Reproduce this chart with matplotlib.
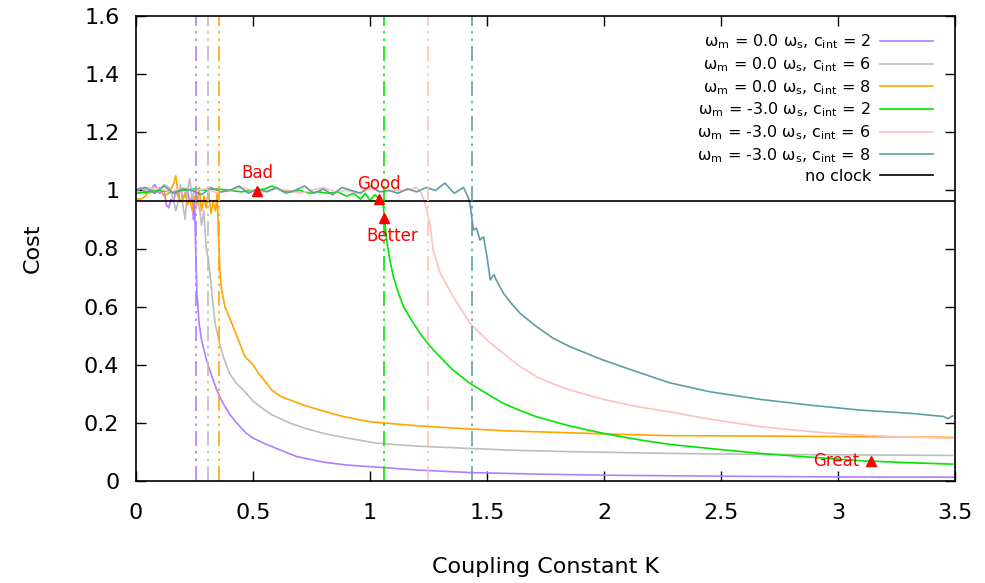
import matplotlib
matplotlib.use("Agg")
import matplotlib.pyplot as plt

plt.rcParams['font.family'] = ['DejaVu Sans']
plt.rcParams['mathtext.default'] = 'regular'

# ---------------- data ----------------
k_p = [0.00,0.02,0.04,0.06,0.08,0.10,0.12,0.13,0.14,0.15,0.16,0.17,0.18,0.19,0.20,0.21,0.22,0.23,0.24,0.245,0.25,0.255,0.26,0.27,0.28,0.30,0.32,0.345,0.37,0.40,0.43,0.47,0.50,0.543,0.60,0.687,0.80,0.90,1.04,1.20,1.427,1.7,2.0,2.28,2.6,3.0,3.5]
c_p = [1.00,1.01,0.99,1.00,1.02,0.99,1.00,0.95,0.94,0.97,0.96,1.00,0.98,1.01,0.97,0.99,1.00,0.96,0.98,0.90,0.97,0.80,0.65,0.54,0.485,0.42,0.37,0.313,0.27,0.23,0.20,0.165,0.148,0.131,0.112,0.084,0.065,0.055,0.047,0.038,0.029,0.024,0.020,0.018,0.016,0.014,0.013]

k_g = [0,0.02,0.04,0.06,0.08,0.10,0.12,0.14,0.16,0.17,0.18,0.19,0.20,0.21,0.22,0.23,0.24,0.25,0.26,0.27,0.28,0.29,0.30,0.31,0.316,0.325,0.338,0.355,0.373,0.40,0.43,0.459,0.50,0.53,0.58,0.658,0.72,0.80,0.90,1.03,1.2,1.427,1.6,1.855,2.0,2.28,2.6,3.0,3.49]
c_g = [1.00,1.01,1.00,0.99,1.01,1.00,1.02,1.01,0.97,0.93,0.96,1.02,0.95,0.90,1.00,1.04,0.97,1.00,0.98,0.95,0.88,0.93,0.80,0.76,0.715,0.64,0.543,0.48,0.428,0.37,0.335,0.313,0.275,0.256,0.228,0.199,0.182,0.164,0.148,0.130,0.120,0.112,0.106,0.101,0.099,0.095,0.092,0.090,0.088]

k_o = [0,0.02,0.04,0.06,0.08,0.10,0.12,0.14,0.16,0.17,0.18,0.19,0.20,0.21,0.22,0.23,0.24,0.25,0.26,0.27,0.28,0.29,0.30,0.31,0.32,0.33,0.34,0.347,0.352,0.359,0.366,0.38,0.409,0.44,0.466,0.50,0.523,0.55,0.58,0.62,0.658,0.72,0.786,0.87,0.957,1.0,1.2,1.427,1.6,1.855,2.0,2.28,2.6,3.0,3.2,3.49]
c_o = [0.97,0.97,0.98,1.00,0.99,1.01,0.98,0.99,1.02,1.05,0.99,0.96,0.97,0.99,0.95,0.97,0.93,0.98,0.95,1.01,0.93,0.98,0.94,1.00,0.92,0.96,0.93,0.99,0.85,0.715,0.657,0.60,0.543,0.48,0.428,0.40,0.371,0.345,0.313,0.29,0.279,0.26,0.244,0.225,0.21,0.204,0.19,0.179,0.172,0.166,0.162,0.156,0.155,0.153,0.152,0.150]

k_gr = [0,0.05,0.10,0.15,0.20,0.25,0.30,0.35,0.40,0.45,0.50,0.55,0.58,0.62,0.66,0.70,0.74,0.78,0.82,0.86,0.90,0.93,0.96,0.98,1.00,1.02,1.04,1.05,1.057,1.071,1.085,1.10,1.12,1.143,1.18,1.214,1.25,1.285,1.35,1.427,1.50,1.57,1.64,1.712,1.855,1.997,2.14,2.28,2.45,2.667,2.88,3.094,3.3,3.49]
c_gr = [0.99,0.995,1.00,0.995,1.00,1.005,1.00,1.005,1.00,0.995,1.00,1.005,1.015,1.00,0.995,1.00,0.99,0.995,0.99,0.995,0.98,0.99,0.97,0.99,0.965,0.985,0.97,0.96,0.944,0.829,0.76,0.703,0.65,0.60,0.55,0.508,0.47,0.439,0.385,0.336,0.30,0.267,0.243,0.221,0.189,0.164,0.143,0.126,0.112,0.095,0.082,0.070,0.063,0.058]

k_pk = [0,0.05,0.10,0.15,0.20,0.25,0.30,0.35,0.40,0.45,0.50,0.55,0.60,0.65,0.70,0.75,0.80,0.85,0.90,0.95,1.00,1.05,1.10,1.15,1.20,1.22,1.235,1.256,1.27,1.30,1.356,1.427,1.50,1.57,1.64,1.712,1.78,1.855,1.997,2.14,2.28,2.45,2.667,2.88,3.094,3.3,3.49]
c_pk = [1.00,1.01,1.005,0.995,1.01,1.00,1.005,0.99,1.00,1.01,1.00,0.995,1.005,1.00,0.99,1.00,1.01,0.995,1.00,0.99,1.005,0.995,1.00,1.00,1.01,0.99,0.956,0.887,0.795,0.715,0.634,0.543,0.485,0.439,0.395,0.359,0.335,0.313,0.281,0.256,0.238,0.213,0.187,0.17,0.158,0.151,0.147]

k_t = [0,0.04,0.08,0.12,0.16,0.20,0.24,0.28,0.32,0.36,0.40,0.44,0.48,0.52,0.56,0.60,0.64,0.68,0.72,0.76,0.80,0.84,0.88,0.92,0.96,1.00,1.04,1.08,1.12,1.16,1.20,1.24,1.28,1.32,1.36,1.40,1.42,1.427,1.442,1.455,1.47,1.485,1.50,1.514,1.53,1.541,1.57,1.60,1.641,1.712,1.783,1.855,1.997,2.14,2.28,2.453,2.667,2.88,3.094,3.308,3.45,3.47,3.49]
c_t = [1.00,1.01,0.99,1.015,0.99,1.005,1.00,0.985,1.01,0.995,1.00,1.015,0.99,1.005,0.995,1.01,0.99,1.00,1.015,0.99,1.005,0.985,1.01,1.00,0.99,1.015,0.995,1.00,0.99,1.005,0.995,1.01,1.00,1.025,0.99,1.01,0.975,0.955,0.864,0.87,0.829,0.84,0.772,0.692,0.71,0.69,0.646,0.615,0.577,0.531,0.491,0.462,0.416,0.376,0.338,0.307,0.281,0.261,0.244,0.233,0.222,0.215,0.224]

no_clock = 0.963

labels = [r"ω$_{m}$ = 0.0 ω$_{s}$, c$_{int}$ = 2",
          r"ω$_{m}$ = 0.0 ω$_{s}$, c$_{int}$ = 6",
          r"ω$_{m}$ = 0.0 ω$_{s}$, c$_{int}$ = 8",
          r"ω$_{m}$ = -3.0 ω$_{s}$, c$_{int}$ = 2",
          r"ω$_{m}$ = -3.0 ω$_{s}$, c$_{int}$ = 6",
          r"ω$_{m}$ = -3.0 ω$_{s}$, c$_{int}$ = 8",
          "no clock"]
colors = ['#b07fff', '#bdbdbd', '#ffa500', '#00e600', '#ffc0c0', '#5f9ea0']
thresholds = [0.256, 0.306, 0.355, 1.06, 1.248, 1.436]

marker_k = [0.517, 1.038, 1.06, 3.14]
marker_c = [0.998, 0.970, 0.905, 0.069]
marker_text = ["Bad", "Good", "Better", "Great"]

# ---------------- plot ----------------
fig = plt.figure(figsize=(9.85, 5.83), dpi=100)
ax = fig.add_axes([136/985, 102/583, 819/985, 465/583])

series = [(k_p, c_p), (k_g, c_g), (k_o, c_o), (k_gr, c_gr), (k_pk, c_pk), (k_t, c_t)]
for (k, c), col, lab in zip(series, colors, labels[:6]):
    ax.plot(k, c, color=col, lw=1.2, label=lab)
ax.axhline(no_clock, color='black', lw=1.2, label=labels[6])

for t, col in zip(thresholds, colors):
    ax.axvline(t, color=col, lw=1.2, linestyle=(0, (9, 3, 1.5, 3, 1.5, 3)))

ax.plot(marker_k, marker_c, linestyle='none', marker='^', color='red', markersize=7)
fs_a = 12
ax.text(marker_k[0], marker_c[0] + 0.03, marker_text[0], color='red', fontsize=fs_a, ha='center', va='bottom')
ax.text(marker_k[1], marker_c[1] + 0.02, marker_text[1], color='red', fontsize=fs_a, ha='center', va='bottom')
ax.text(marker_k[2] + 0.035, marker_c[2] - 0.03, marker_text[2], color='red', fontsize=fs_a, ha='center', va='top')
ax.text(marker_k[3] - 0.05, marker_c[3], marker_text[3], color='red', fontsize=fs_a, ha='right', va='center')

ax.set_xlim(0, 3.5)
ax.set_ylim(0, 1.6)
ax.set_xticks([0, 0.5, 1, 1.5, 2, 2.5, 3, 3.5])
ax.set_xticklabels(['0', '0.5', '1', '1.5', '2', '2.5', '3', '3.5'])
ax.set_yticks([0, 0.2, 0.4, 0.6, 0.8, 1, 1.2, 1.4, 1.6])
ax.set_yticklabels(['0', '0.2', '0.4', '0.6', '0.8', '1', '1.2', '1.4', '1.6'])
ax.tick_params(direction='in', top=True, right=True, length=7, width=1, labelsize=16)
ax.tick_params(axis='x', pad=16)
ax.tick_params(axis='y', pad=12)
for s in ax.spines.values():
    s.set_linewidth(1.2)

ax.set_xlabel('Coupling Constant K', fontsize=16, labelpad=24)
ax.set_ylabel('Cost', fontsize=16, labelpad=30)

leg = ax.legend(loc='upper right', bbox_to_anchor=(0.985, 0.985), frameon=False, markerfirst=False,
                fontsize=11.5, handlelength=3.3, labelspacing=0.25, borderaxespad=0.2, handletextpad=0.6)
for t in leg.get_texts():
    t.set_ha('right')
leg._legend_box.align = 'right'

fig.savefig('out.png', dpi=100)
